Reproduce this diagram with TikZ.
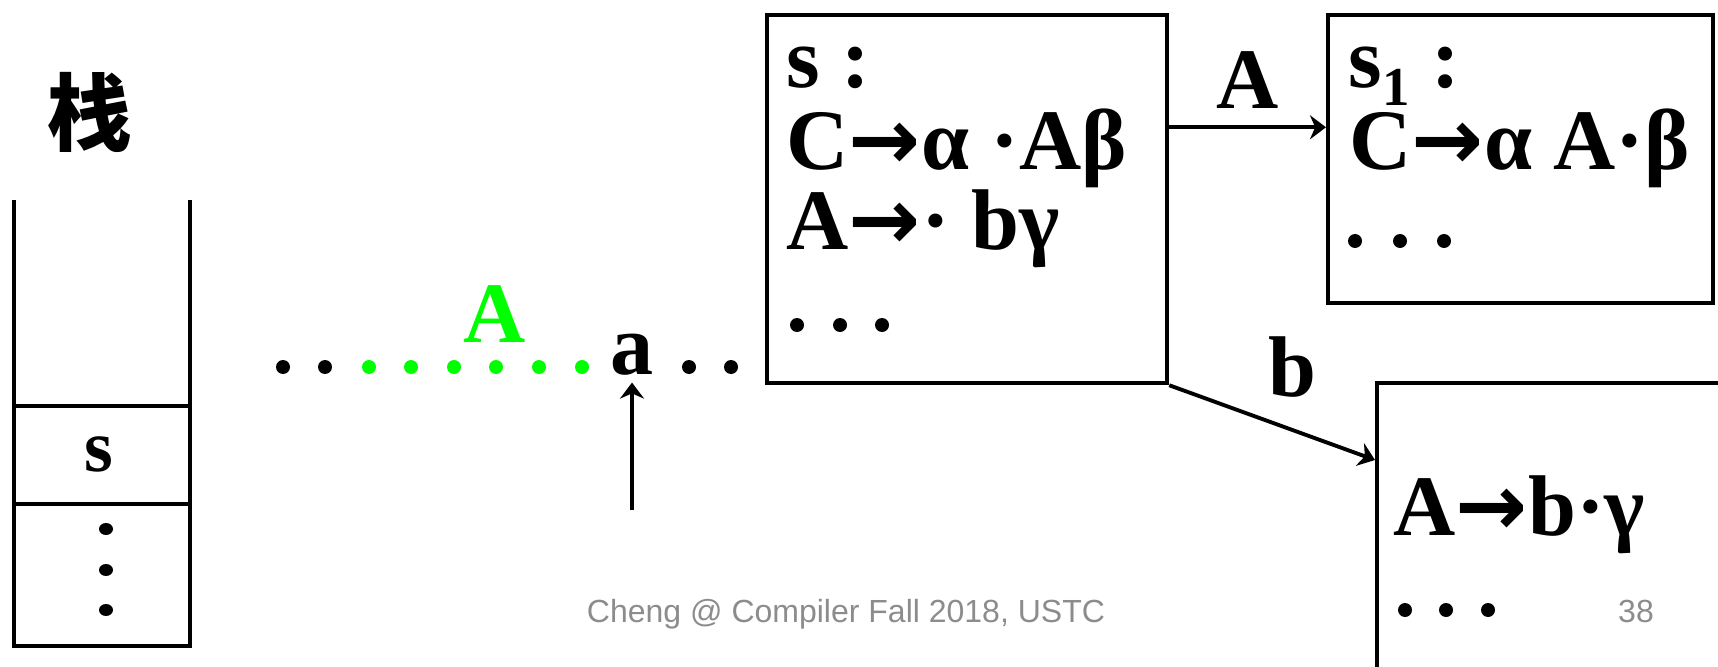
\documentclass[tikz,border=0pt]{standalone}
\usepackage{fontspec}
\setmainfont{Liberation Serif}
\newfontfamily\cjkfont{Noto Sans CJK SC}
\newfontfamily\footfont{Liberation Sans}
\newfontfamily\arrowfont{DejaVu Sans}
\usetikzlibrary{arrows.meta, positioning, calc}
\definecolor{litgreen}{RGB}{0,255,0}
\definecolor{footgray}{RGB}{140,140,140}
\newcommand\ar{{\arrowfont\bfseries →}}

\tikzset{
  itembox/.style={draw, line width=1.15pt, anchor=north west, inner sep=0pt},
  item/.style={anchor=base west, inner sep=0pt, font=\fontsize{24.5}{28}\selectfont\bfseries},
  sym/.style={inner sep=0pt, font=\fontsize{24.5}{28}\selectfont\bfseries},
  trans/.style={-{Stealth[length=0.16cm, width=0.24cm]}, line width=1.1pt},
  stackline/.style={line width=1.2pt},
  foot/.style={anchor=base, inner sep=0pt, font=\footfont\fontsize{9.1}{10}\selectfont, text=footgray}
}

\begin{document}
\begin{tikzpicture}[x=0.01cm, y=-0.01cm]
  \useasboundingbox (0,0) rectangle (1718,667);
  \clip (0,0) rectangle (1718,667);
  % stack
  \node[font=\cjkfont\bfseries\fontsize{24}{26}\selectfont, inner sep=0pt] (stk) at (90,112) {栈};
  \draw[stackline] (14,200) -- (14,646) -- (190,646) -- (190,200);
  \draw[stackline] (14,406) -- (190,406);
  \draw[stackline] (14,504) -- (190,504);
  \node[sym, anchor=base, font=\fontsize{21}{24}\selectfont\bfseries] (top) at (99,471) {s};
  \foreach \y in {529,570,610}
    \fill (106,\y) ellipse (7 and 6);
  % input
  \foreach \x in {283,325,689,731}
    \fill (\x,367) circle (7);
  \foreach \x in {369,411,454,496,539,582}
    \fill[litgreen] (\x,367) circle (7);
  \node[sym, anchor=base, text=litgreen] (red) at (495,342) {A};
  \node[sym, anchor=base, inner sep=2pt] (tokA) at (632,374) {a};
  \coordinate (ptr) at (632,510);
  \draw[trans] (ptr) -- (tokA.south);
  % item sets
  \node[itembox, minimum width=4cm, minimum height=3.68cm] (I0) at (765,13) {};
  \node[item] (I0s) at (786,88) {s :};
  \node[item] (I0a) at (786,170) {C\ar α ·Aβ};
  \node[item] (I0b) at (786,250) {A\ar· bγ};
  \foreach \x in {797,840,882}
    \fill (\x,325) circle (7);
  \node[itembox, minimum width=3.85cm, minimum height=2.88cm] (I1) at (1326,13) {};
  \node[item] (I1s) at (1348,88) {s\raisebox{-5pt}{\fontsize{15.6}{18}\selectfont 1} :};
  \node[item] (I1a) at (1349,170) {C\ar α A·β};
  \foreach \x in {1355,1400,1444}
    \fill (\x,241) circle (7);
  \node[itembox, minimum width=4cm, minimum height=4cm] (I2) at (1375,381) {};
  \node[item] (I2a) at (1393,535) {A\ar b·γ};
  \foreach \x in {1405,1446,1488}
    \fill (\x,610) circle (7);
  % transitions
  \coordinate (outA) at ($(I0.north east)!0.307!(I0.south east)$);
  \draw[trans] (outA) -- (outA -| I1.west) node[sym, pos=0.5, above=0.17cm] (lA) {A};
  \coordinate (inB) at ($(I2.north west)+(0,79)$);
  \draw[trans] (I0.south east) -- (inB) node[sym, pos=0.6, above=0.31cm] (lB) {b};
  % footer
  \node[foot] (credit) at (846,622) {Cheng @ Compiler Fall 2018, USTC};
  \node[foot] (page) at (1636,622) {38};
\end{tikzpicture}
\end{document}
